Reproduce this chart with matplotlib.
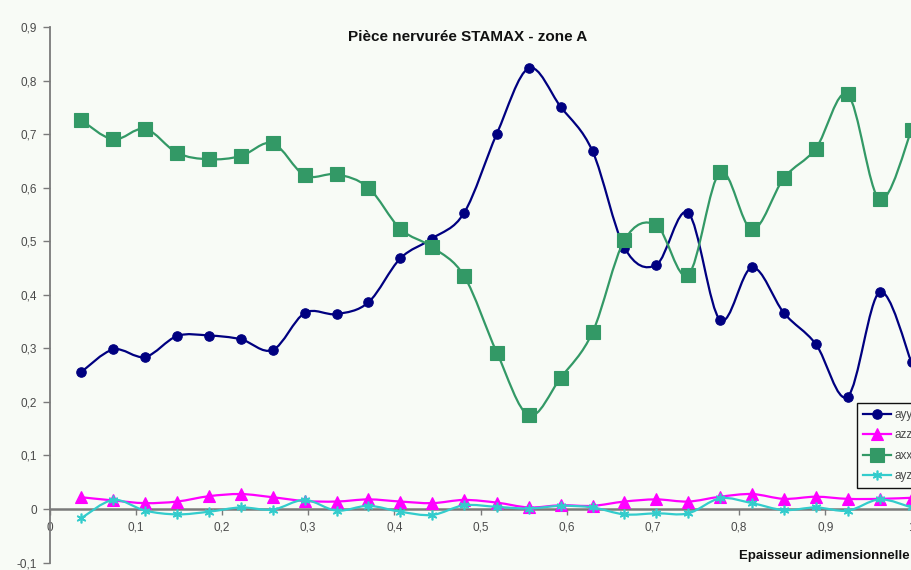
import numpy as np
import matplotlib
matplotlib.use("Agg")
import matplotlib.pyplot as plt
from matplotlib.path import Path
from matplotlib.patches import PathPatch
from matplotlib.lines import Line2D

plt.rcParams['font.family'] = ['Liberation Sans', 'DejaVu Sans']

# Dimensionless thickness positions (27 layers)
thickness = [0.037, 0.074, 0.111, 0.148, 0.185, 0.222, 0.259, 0.296, 0.333,
             0.370, 0.407, 0.444, 0.481, 0.519, 0.556, 0.593, 0.630, 0.667,
             0.704, 0.741, 0.778, 0.815, 0.852, 0.889, 0.926, 0.963, 1.000]

ayy = [0.256, 0.298, 0.284, 0.323, 0.324, 0.317, 0.297, 0.366, 0.364,
       0.386, 0.468, 0.505, 0.553, 0.701, 0.823, 0.751, 0.668, 0.488,
       0.456, 0.553, 0.353, 0.451, 0.366, 0.308, 0.210, 0.405, 0.274]

azz = [0.022, 0.016, 0.011, 0.014, 0.024, 0.028, 0.022, 0.015, 0.014,
       0.018, 0.014, 0.011, 0.017, 0.012, 0.003, 0.007, 0.006, 0.014,
       0.018, 0.014, 0.023, 0.028, 0.019, 0.023, 0.019, 0.019, 0.021]

axx = [0.726, 0.690, 0.710, 0.665, 0.653, 0.659, 0.683, 0.623, 0.625,
       0.600, 0.523, 0.489, 0.435, 0.292, 0.175, 0.245, 0.330, 0.502,
       0.530, 0.437, 0.629, 0.522, 0.618, 0.673, 0.774, 0.578, 0.707]

ayz = [-0.017, 0.017, -0.003, -0.010, -0.005, 0.003, -0.001, 0.017, -0.003,
       0.006, -0.005, -0.011, 0.007, 0.004, 0.001, 0.006, 0.003, -0.010,
       -0.008, -0.008, 0.020, 0.011, -0.002, 0.003, -0.003, 0.018, 0.003]

x_ticks = [0.0, 0.1, 0.2, 0.3, 0.4, 0.5, 0.6, 0.7, 0.8, 0.9, 1.0]
x_tick_labels = ["0", "0,1", "0,2", "0,3", "0,4", "0,5", "0,6", "0,7",
                 "0,8", "0,9", "1"]
y_ticks = [-0.1, 0.0, 0.1, 0.2, 0.3, 0.4, 0.5, 0.6, 0.7, 0.8, 0.9]
y_tick_labels = ["-0,1", "0", "0,1", "0,2", "0,3", "0,4", "0,5", "0,6",
                 "0,7", "0,8", "0,9"]

title = "Pièce nervurée STAMAX - zone A"
x_label = "Epaisseur adimensionnelle"

BG = "#f8fbf6"
AXIS_GREY = "#7a7a7a"
TEXT_GREY = "#4a4a4a"


def smooth_path(xs, ys):
    """Cubic Bezier path through the points (Catmull-Rom tangents)."""
    pts = np.column_stack([xs, ys]).astype(float)
    n = len(pts)
    verts = [pts[0]]
    codes = [Path.MOVETO]
    for i in range(n - 1):
        p0 = pts[i - 1] if i > 0 else pts[i]
        p1 = pts[i]
        p2 = pts[i + 1]
        p3 = pts[i + 2] if i + 2 < n else pts[i + 1]
        c1 = p1 + (p2 - p0) / 6.0
        c2 = p2 - (p3 - p1) / 6.0
        verts += [c1, c2, p2]
        codes += [Path.CURVE4] * 3
    return Path(verts, codes)


W, H = 911, 570
fig = plt.figure(figsize=(W / 100, H / 100), dpi=100)
fig.patch.set_facecolor(BG)

x0_px, px_per_unit = 49.5, 862.0
y_top_px, y_bot_px = 27.0, 562.6
left = x0_px / W
width = px_per_unit * 1.1 / W
bottom = 1 - y_bot_px / H
height = (y_bot_px - y_top_px) / H
ax = fig.add_axes([left, bottom, width, height])
ax.set_facecolor(BG)
ax.set_xlim(0, 1.1)
ax.set_ylim(-0.1, 0.9)

series = [
    ("ayy", ayy, "#000080", dict(marker="o", markersize=6.8, markeredgewidth=0.8), 3),
    ("azz", azz, "#ff00ff", dict(marker="^", markersize=8, markeredgewidth=0.8), 4),
    ("axx", axx, "#339966", dict(marker="s", markersize=9.5, markeredgewidth=0.8), 5),
    ("ayz", ayz, "#33cccc", dict(marker=(6, 2, 0), markersize=7, markeredgewidth=1.2), 6),
]

handles = []
for name, vals, color, mk, z in series:
    ax.add_patch(PathPatch(smooth_path(thickness, vals), facecolor="none",
                           edgecolor=color, lw=1.6, zorder=z))
    ax.plot(thickness, vals, linestyle="none", color=color,
            markerfacecolor=color, markeredgecolor=color, zorder=z + 0.5,
            clip_on=False, **mk)
    handles.append(Line2D([], [], color=color, lw=1.6, markerfacecolor=color,
                          markeredgecolor=color, label=name, **mk))

# Axes: y axis on the left, x axis crossing at zero
for s in ("top", "right"):
    ax.spines[s].set_visible(False)
ax.spines["bottom"].set_position(("data", 0))
ax.spines["bottom"].set_color(AXIS_GREY)
ax.spines["bottom"].set_linewidth(1.8)
ax.spines["bottom"].set_zorder(2)
ax.spines["left"].set_color(AXIS_GREY)
ax.spines["left"].set_linewidth(1.3)

ax.set_xticks(x_ticks)
ax.set_xticklabels(x_tick_labels)
ax.set_yticks(y_ticks)
ax.set_yticklabels(y_tick_labels)
ax.tick_params(axis="x", direction="out", length=4, width=1, color=AXIS_GREY,
               labelsize=8.5, labelcolor=TEXT_GREY, pad=5)
ax.tick_params(axis="y", direction="out", length=5, width=1, color=AXIS_GREY,
               labelsize=8.5, labelcolor=TEXT_GREY, pad=4)

fig.text(467.5 / W, 1 - 37 / H, title, ha="center", va="center",
         fontsize=11, fontweight="bold", color="#111111")
fig.text(739 / W, 1 - 556 / H, x_label, ha="left", va="center",
         fontsize=9.5, fontweight="bold", color="#111111")

leg = ax.legend(handles=handles, loc="upper left",
                bbox_to_anchor=(857 / W, 1 - 403 / H),
                bbox_transform=fig.transFigure, borderaxespad=0,
                fontsize=8.5, handlelength=2.4, handletextpad=0.3,
                labelspacing=0.72, borderpad=0.5, fancybox=False,
                framealpha=1, facecolor=BG, edgecolor="#111111",
                labelcolor=TEXT_GREY)
leg.get_frame().set_linewidth(1.0)
leg.set_zorder(10)

fig.savefig("out.png", dpi=100, facecolor=BG)
